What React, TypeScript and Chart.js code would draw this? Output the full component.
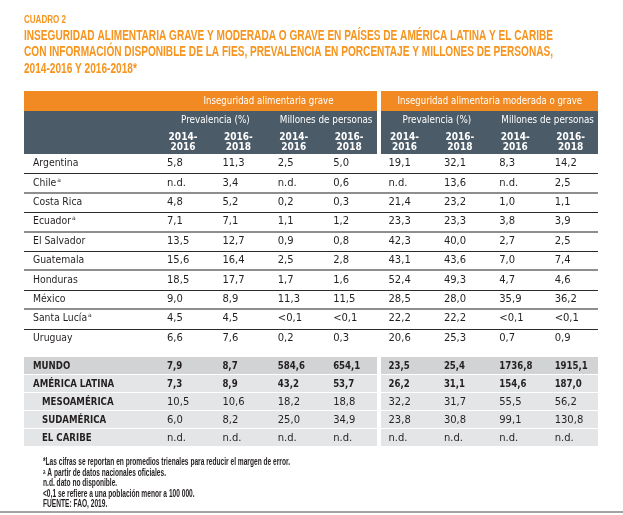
import React, { useEffect, useRef } from 'react';
import { Chart, registerables } from 'chart.js';

Chart.register(...registerables);

// ---------- text ----------
const TABLE_NUMBER = 'CUADRO 2';
const TITLE_LINES = [
  'INSEGURIDAD ALIMENTARIA GRAVE Y MODERADA O GRAVE EN PAÍSES DE AMÉRICA LATINA Y EL CARIBE',
  'CON INFORMACIÓN DISPONIBLE DE LA FIES, PREVALENCIA EN PORCENTAJE Y MILLONES DE PERSONAS,',
  '2014-2016 Y 2016-2018*',
];
const GROUPS = ['Inseguridad alimentaria grave', 'Inseguridad alimentaria moderada o grave'];
const MEASURES = ['Prevalencia (%)', 'Millones de personas'];
const PERIODS = [['2014-', '2016'], ['2016-', '2018']];
const COLUMN_KEYS = ['g_prev_1416', 'g_prev_1618', 'g_mill_1416', 'g_mill_1618', 'm_prev_1416', 'm_prev_1618', 'm_mill_1416', 'm_mill_1618'];
const FOOTNOTES = [
  '*Las cifras se reportan en promedios trienales para reducir el margen de error.',
  'ᵃ A partir de datos nacionales oficiales.',
  'n.d. dato no disponible.',
  '<0,1 se refiere a una población menor a 100 000.',
  'FUENTE: FAO, 2019.',
];

type Cell = number | string | null; // null = n.d.

// ---------- countries ----------
const COUNTRIES = ['Argentina', 'Chile', 'Costa Rica', 'Ecuador', 'El Salvador', 'Guatemala', 'Honduras', 'México', 'Santa Lucía', 'Uruguay'];
const COUNTRY_NOTE = [false, true, false, true, false, false, false, false, true, false];

const G_PREV_1416: Cell[] = [5.8, null, 4.8, 7.1, 13.5, 15.6, 18.5, 9.0, 4.5, 6.6];
const G_PREV_1618: Cell[] = [11.3, 3.4, 5.2, 7.1, 12.7, 16.4, 17.7, 8.9, 4.5, 7.6];
const G_MILL_1416: Cell[] = [2.5, null, 0.2, 1.1, 0.9, 2.5, 1.7, 11.3, '<0,1', 0.2];
const G_MILL_1618: Cell[] = [5.0, 0.6, 0.3, 1.2, 0.8, 2.8, 1.6, 11.5, '<0,1', 0.3];
const M_PREV_1416: Cell[] = [19.1, null, 21.4, 23.3, 42.3, 43.1, 52.4, 28.5, 22.2, 20.6];
const M_PREV_1618: Cell[] = [32.1, 13.6, 23.2, 23.3, 40.0, 43.6, 49.3, 28.0, 22.2, 25.3];
const M_MILL_1416: Cell[] = [8.3, null, 1.0, 3.8, 2.7, 7.0, 4.7, 35.9, '<0,1', 0.7];
const M_MILL_1618: Cell[] = [14.2, 2.5, 1.1, 3.9, 2.5, 7.4, 4.6, 36.2, '<0,1', 0.9];

// ---------- regions ----------
const REGIONS = ['MUNDO', 'AMÉRICA LATINA', 'MESOAMÉRICA', 'SUDAMÉRICA', 'EL CARIBE'];
const REGION_LEVEL = [0, 0, 1, 1, 1];

const R_G_PREV_1416: Cell[] = [7.9, 7.3, 10.5, 6.0, null];
const R_G_PREV_1618: Cell[] = [8.7, 8.9, 10.6, 8.2, null];
const R_G_MILL_1416: Cell[] = [584.6, 43.2, 18.2, 25.0, null];
const R_G_MILL_1618: Cell[] = [654.1, 53.7, 18.8, 34.9, null];
const R_M_PREV_1416: Cell[] = [23.5, 26.2, 32.2, 23.8, null];
const R_M_PREV_1618: Cell[] = [25.4, 31.1, 31.7, 30.8, null];
const R_M_MILL_1416: Cell[] = [1736.8, 154.6, 55.5, 99.1, null];
const R_M_MILL_1618: Cell[] = [1915.1, 187.0, 56.2, 130.8, null];

const COUNTRY_COLUMNS = [G_PREV_1416, G_PREV_1618, G_MILL_1416, G_MILL_1618, M_PREV_1416, M_PREV_1618, M_MILL_1416, M_MILL_1618];
const REGION_COLUMNS = [R_G_PREV_1416, R_G_PREV_1618, R_G_MILL_1416, R_G_MILL_1618, R_M_PREV_1416, R_M_PREV_1618, R_M_MILL_1416, R_M_MILL_1618];

// ---------- style ----------
const COL = {
  title: '#F7941D',
  band: '#F28A24',
  slate: '#4B5B68',
  text: '#231F20',
  darkLine: '#2A2A2A',
  grayLine: '#8E8E8E',
  mundo: '#D2D3D5',
  region: '#E4E5E6',
  bottomLine: '#A3A3A3',
};
const BODY = "'DejaVu Sans'";
const NARROW = "'Liberation Sans', 'DejaVu Sans'";
const TABLE_LEFT = 24;
const TABLE_RIGHT = 598;

const fmt = (v: Cell) => (v === null ? 'n.d.' : typeof v === 'string' ? v : v.toFixed(1).replace('.', ','));

function put(
  ctx: CanvasRenderingContext2D, s: string, x: number, y: number, font: string, color: string,
  align: CanvasTextAlign = 'left', squeeze = 1, baseline: CanvasTextBaseline = 'middle',
) {
  ctx.font = font;
  ctx.fillStyle = color;
  ctx.textAlign = align;
  ctx.textBaseline = baseline;
  if (squeeze !== 1) {
    const w = ctx.measureText(s).width;
    ctx.fillText(s, x, y, w * squeeze);
  } else {
    ctx.fillText(s, x, y);
  }
}

const tablePlugin = {
  id: 'tableDraw',
  afterDraw(chart: any) {
    const ctx: CanvasRenderingContext2D = chart.ctx;
    const area = chart.chartArea;
    const xs = chart.scales.x;
    const yc = chart.scales.yc;
    const yr = chart.scales.yr;
    const band = xs.getPixelForValue(1) - xs.getPixelForValue(0);
    const colLeft = (i: number) => xs.getPixelForValue(i) - band / 2;
    const split = colLeft(4) - 2.5;
    const blocks = [
      [TABLE_LEFT, split - 2, colLeft(0)],
      [split + 2, TABLE_RIGHT, colLeft(4)],
    ];
    ctx.save();

    // ----- titles -----
    ctx.font = `bold 11px ${NARROW}`;
    const wNum = ctx.measureText(TABLE_NUMBER).width;
    put(ctx, TABLE_NUMBER, TABLE_LEFT, 23, ctx.font, COL.title, 'left', 42 / wNum, 'alphabetic');
    ctx.font = `bold 14.5px ${NARROW}`;
    const tSq = 529 / ctx.measureText(TITLE_LINES[0]).width;
    const titleBase = [39.5, 56, 72.5];
    TITLE_LINES.forEach((l, i) => put(ctx, l, TABLE_LEFT, titleBase[i], `bold 14.5px ${NARROW}`, COL.title, 'left', tSq, 'alphabetic'));

    // ----- header bands -----
    const top = area.top;
    blocks.forEach(([b0, b1, c0], g) => {
      ctx.fillStyle = COL.band;
      ctx.fillRect(b0, top - 63, b1 - b0, 20);
      ctx.fillStyle = COL.slate;
      ctx.fillRect(b0, top - 43, b1 - b0, 43);
      put(ctx, GROUPS[g], (c0 + b1) / 2, top - 53, `10px ${BODY}`, '#FFFFFF', 'center', 0.86);
      MEASURES.forEach((m, k) => {
        const c = g * 4 + k * 2;
        put(ctx, m, (colLeft(c) + colLeft(c + 2)) / 2, top - 34, `10px ${BODY}`, '#FFFFFF', 'center', 0.88);
        PERIODS.forEach((p, j) => {
          const cx = colLeft(c + j) + 23;
          put(ctx, p[0], cx, top - 17, `bold 10px ${BODY}`, '#FFFFFF', 'center', 0.9);
          put(ctx, p[1], cx, top - 7, `bold 10px ${BODY}`, '#FFFFFF', 'center', 0.9);
        });
      });
    });

    // ----- country rows -----
    for (let i = 1; i < COUNTRIES.length; i++) {
      const yy = Math.round((yc.getPixelForValue(i - 1) + yc.getPixelForValue(i)) / 2);
      const thick = i % 2 === 0;
      ctx.fillStyle = thick ? COL.grayLine : COL.darkLine;
      ctx.fillRect(TABLE_LEFT, thick ? yy - 1 : yy, TABLE_RIGHT - TABLE_LEFT, thick ? 2 : 1);
    }
    COUNTRIES.forEach((name, r) => {
      const cy = yc.getPixelForValue(r);
      const nameFont = `10px ${BODY}`;
      put(ctx, name, TABLE_LEFT + 9, cy, nameFont, COL.text, 'left', 0.93);
      if (COUNTRY_NOTE[r]) {
        ctx.font = nameFont;
        const w = ctx.measureText(name).width * 0.93;
        put(ctx, 'a', TABLE_LEFT + 9 + w + 1, cy - 3, `6px ${BODY}`, COL.text, 'left');
      }
      COUNTRY_COLUMNS.forEach((col, c) => {
        put(ctx, fmt(col[r]), colLeft(c) + 7, cy, `10px ${BODY}`, COL.text, 'left');
      });
    });

    // ----- region rows -----
    const rHalf = (yr.getPixelForValue(1) - yr.getPixelForValue(0)) / 2;
    REGIONS.forEach((name, r) => {
      const cy = yr.getPixelForValue(r);
      blocks.forEach(([b0, b1]) => {
        ctx.fillStyle = r === 0 ? COL.mundo : COL.region;
        ctx.fillRect(b0, Math.round(cy - rHalf), b1 - b0, Math.round(2 * rHalf) - 1);
      });
      const lvl = REGION_LEVEL[r];
      put(ctx, name, TABLE_LEFT + 9 + lvl * 9, cy, `bold 10px ${BODY}`, COL.text, 'left', 0.86);
      REGION_COLUMNS.forEach((col, c) => {
        if (lvl === 0) put(ctx, fmt(col[r]), colLeft(c) + 7, cy, `bold 10px ${BODY}`, COL.text, 'left', 0.86);
        else put(ctx, fmt(col[r]), colLeft(c) + 7, cy, `10px ${BODY}`, COL.text, 'left');
      });
    });

    // ----- footnotes -----
    ctx.font = `bold 10px ${NARROW}`;
    const fSq = 247 / ctx.measureText(FOOTNOTES[0]).width;
    const fBase = [465, 475.5, 486, 496.5, 507];
    FOOTNOTES.forEach((f, i) => put(ctx, f, 43, fBase[i], `bold 10px ${NARROW}`, COL.text, 'left', fSq, 'alphabetic'));
    ctx.fillStyle = COL.bottomLine;
    ctx.fillRect(0, 511, 623, 2);

    ctx.restore();
  },
};

export default function App() {
  const ref = useRef<HTMLCanvasElement>(null);
  useEffect(() => {
    if (!ref.current) return;
    const hidden = { display: false };
    const chart = new Chart(ref.current, {
      type: 'bar',
      data: { labels: COLUMN_KEYS, datasets: [] },
      options: {
        animation: false,
        responsive: false,
        devicePixelRatio: 1,
        events: [],
        layout: { padding: { left: 160, right: 20, top: 154, bottom: 68 } },
        plugins: { legend: hidden, title: hidden, tooltip: { enabled: false } },
        scales: {
          x: { type: 'category', labels: COLUMN_KEYS, offset: true, position: 'bottom', display: false },
          yr: { type: 'category', axis: 'y', position: 'left', labels: REGIONS, offset: true, display: false, stack: 'rows', stackWeight: 90, weight: 1 },
          ygap: { type: 'category', axis: 'y', position: 'left', labels: [''], offset: true, display: false, stack: 'rows', stackWeight: 9, weight: 2 },
          yc: { type: 'category', axis: 'y', position: 'left', labels: COUNTRIES, offset: true, display: false, stack: 'rows', stackWeight: 194, weight: 3 },
        },
      } as any,
      plugins: [tablePlugin],
    });
    return () => chart.destroy();
  }, []);
  return (
    <div style={{ position: 'fixed', left: 0, top: 0, width: 623, height: 515, background: '#fff' }}>
      <canvas ref={ref} width={623} height={515} style={{ display: 'block' }} />
    </div>
  );
}
